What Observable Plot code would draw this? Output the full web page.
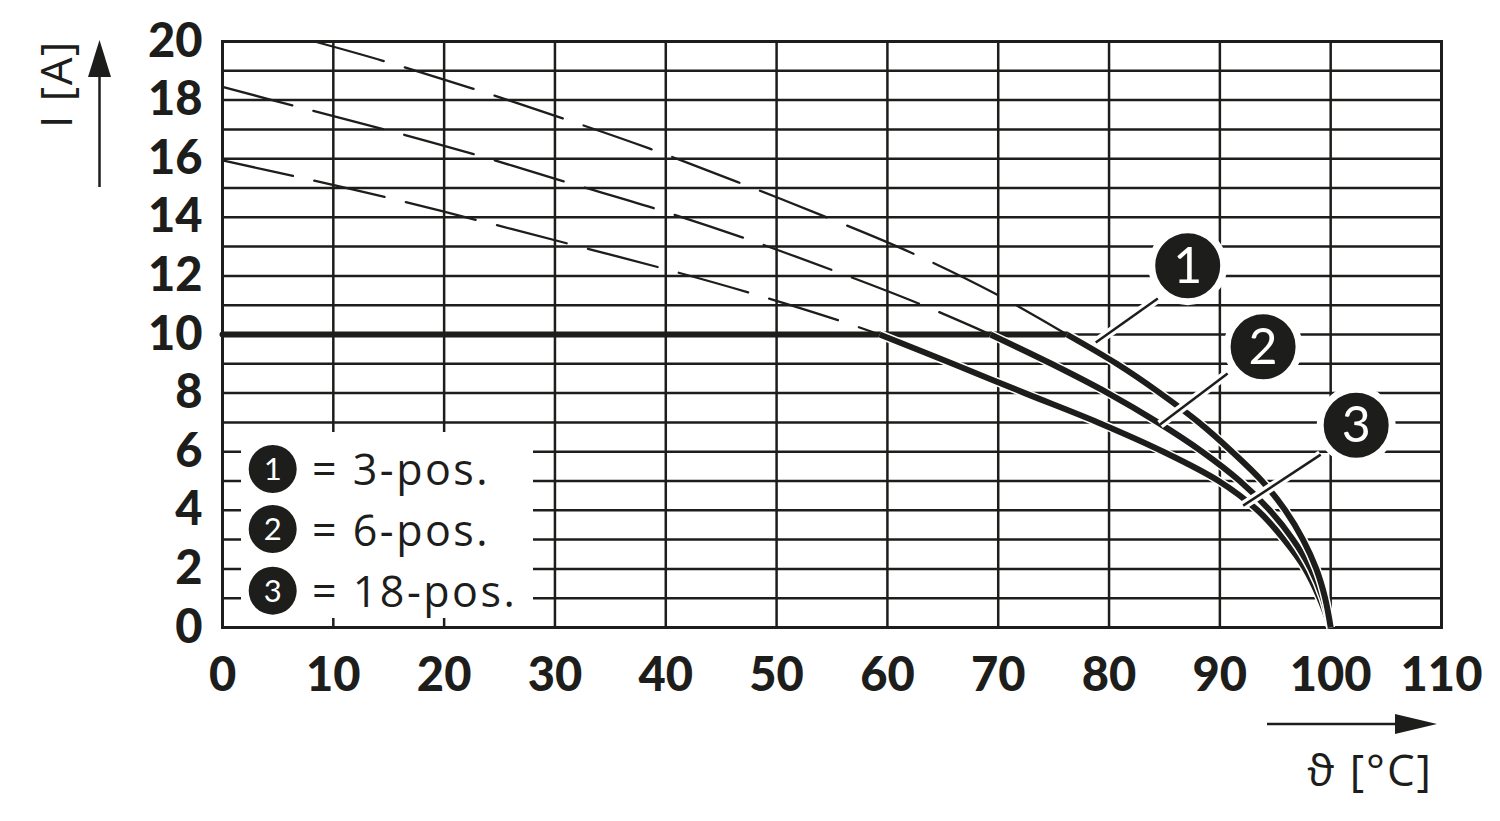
<!DOCTYPE html>
<html><head><meta charset="utf-8">
<script src="https://cdn.jsdelivr.net/npm/d3@7"></script>
<script src="https://cdn.jsdelivr.net/npm/@observablehq/plot@0.6"></script>
<style>
html,body{margin:0;padding:0;background:#fff;}
#chart{position:relative;width:1500px;height:821px;}
</style>
</head><body><div id="chart"></div>
<script>
const ink = "#1d1d1b";

// axes
const xTicks = [0, 10, 20, 30, 40, 50, 60, 70, 80, 90, 100, 110];
const yTicks = [0, 2, 4, 6, 8, 10, 12, 14, 16, 18, 20];
const yGridLines = [0,1,2,3,4,5,6,7,8,9,10,11,12,13,14,15,16,17,18,19,20];

// current limit (10 A) line
const limitX = [0, 76.2];
const limitY = [10, 10];

// curve 1 (3-pos.)
const c1DashX = [8.3, 14.4, 22.5, 30.5, 38.5, 46.5, 54.2, 62.1, 69.7, 76.2];
const c1DashY = [20, 19.35, 18.4, 17.4, 16.35, 15.2, 14.05, 12.8, 11.4, 10];
const c1SolidX = [76.2, 80.7, 84.6, 88.1, 91.1, 93.8, 95.9, 97.5, 98.7, 99.5, 100];
const c1SolidY = [10, 9, 8, 7, 6, 5, 4, 3, 2, 1, 0];

// curve 2 (6-pos.)
const c2DashX = [0, 6.5, 14.6, 22.8, 31, 39, 47, 55, 62.8, 69.3];
const c2DashY = [18.45, 17.8, 17.0, 16.14, 15.2, 14.3, 13.3, 12.2, 11.06, 10];
const c2SolidX = [69.3, 74.8, 79.9, 84.4, 88.4, 91.8, 94.5, 96.6, 98.2, 99.3, 100];
const c2SolidY = [10, 9, 8, 7, 6, 5, 4, 3, 2, 1, 0];

// curve 3 (18-pos.)
const c3DashX = [0, 6.5, 14.8, 23, 31.2, 39.3, 47.5, 55.6, 59.3];
const c3DashY = [15.94, 15.4, 14.68, 13.9, 13.1, 12.3, 11.43, 10.48, 10];
const c3SolidX = [59.3, 65.9, 72.4, 79.0, 84.9, 89.9, 93.4, 95.8, 97.7, 99.0, 100];
const c3SolidY = [10, 9, 8, 7, 6, 5, 4, 3, 2, 1, 0];

// badges on the chart
const badgeIds = ["1", "2", "3"];
const badgeX = [87.1, 93.9, 102.3];
const badgeY = [12.35, 9.58, 6.9];
const leaderX1 = [84.4, 90.7, 99.1];
const leaderY1 = [11.23, 8.67, 5.9];
const leaderX2 = [78.8, 84.6, 92.1];
const leaderY2 = [9.73, 6.93, 4.16];

// legend
const legendIds = ["1", "2", "3"];
const legendLabels = ["= 3-pos.", "= 6-pos.", "= 18-pos."];

const yLabel = "I [A]";
const xLabel = "ϑ [°C]";

const toPts = (xs, ys, id) => xs.map((x, i) => ({x, y: ys[i], id}));
const dashData = [
  ...toPts(c1DashX, c1DashY, 1),
  ...toPts(c2DashX, c2DashY, 2),
  ...toPts(c3DashX, c3DashY, 3)
];
const solids = [toPts(c3SolidX, c3SolidY, 3), toPts(c2SolidX, c2SolidY, 2), toPts(c1SolidX, c1SolidY, 1)];
const limitData = toPts(limitX, limitY, 0);
const badges = badgeIds.map((t, i) => ({t, x: badgeX[i], y: badgeY[i], x1: leaderX1[i], y1: leaderY1[i], x2: leaderX2[i], y2: leaderY2[i]}));

const solidMarks = [];
for (const s of solids) {
  solidMarks.push(Plot.line(s, {x: "x", y: "y", stroke: "white", strokeWidth: 9, curve: "catmull-rom", strokeLinecap: "butt"}));
  solidMarks.push(Plot.line(s, {x: "x", y: "y", stroke: ink, strokeWidth: 6, curve: "catmull-rom", strokeLinecap: "butt"}));
}

const plot = Plot.plot({
  width: 1500, height: 821,
  marginLeft: 222, marginRight: 59, marginTop: 41, marginBottom: 194,
  x: {domain: [0, 110]},
  y: {domain: [0, 20]},
  style: {fontFamily: "Lato, 'Open Sans', sans-serif", background: "white", overflow: "visible"},
  marks: [
    Plot.ruleY(yGridLines, {stroke: ink, strokeWidth: 2.5}),
    Plot.ruleX(xTicks, {stroke: ink, strokeWidth: 2.5}),
    Plot.frame({stroke: ink, strokeWidth: 3}),
    Plot.axisX(xTicks, {tickSize: 0, tickPadding: 30, fontSize: 47, fontWeight: 900, fill: ink, label: null}),
    Plot.axisY(yTicks, {tickSize: 0, tickPadding: 20, fontSize: 47, fontWeight: 900, fill: ink, label: null}),
    Plot.line(dashData, {x: "x", y: "y", z: "id", stroke: ink, strokeWidth: 2.3, strokeDasharray: "72,22", curve: "catmull-rom"}),
    Plot.line(limitData, {x: "x", y: "y", stroke: ink, strokeWidth: 6}),
    ...solidMarks,
    Plot.link(badges, {x1: "x1", y1: "y1", x2: "x2", y2: "y2", stroke: "white", strokeWidth: 9}),
    Plot.link(badges, {x1: "x1", y1: "y1", x2: "x2", y2: "y2", stroke: ink, strokeWidth: 2.5}),
    Plot.dot(badges, {x: "x", y: "y", r: 36, fill: ink, stroke: "white", strokeWidth: 7}),
    Plot.text(badges, {x: "x", y: "y", text: "t", fill: "white", fontSize: 50, fontFamily: "Lato, sans-serif", dy: 1})
  ]
});

document.getElementById("chart").appendChild(plot);

const svg = d3.select(plot);
// legend box
const lg = svg.append("g").attr("text-anchor", "start");
lg.append("rect").attr("x", 241).attr("y", 432).attr("width", 292).attr("height", 186).attr("fill", "white");
const rows = [469, 529, 590.7];
const bases = [485, 546, 607];
legendIds.forEach((id, i) => {
  lg.append("circle").attr("cx", 272.7).attr("cy", rows[i]).attr("r", 24).attr("fill", ink);
  lg.append("text").attr("x", 272.7).attr("y", rows[i]).attr("dy", "0.36em").attr("text-anchor", "middle")
    .attr("fill", "white").attr("font-size", 31).attr("font-family", "Lato, sans-serif").text(id);
  lg.append("text").attr("x", 312).attr("y", bases[i]).attr("text-anchor", "start").attr("fill", ink).attr("font-size", 43)
    .attr("letter-spacing", 2.5).attr("font-family", "'Open Sans', sans-serif").text(legendLabels[i]);
});

// y axis label + arrow
svg.append("text").attr("transform", "translate(72,84) rotate(-90)").attr("text-anchor", "middle")
  .attr("fill", ink).attr("font-size", 44).attr("letter-spacing", 1.5).attr("font-family", "'Open Sans', sans-serif").text(yLabel);
svg.append("line").attr("x1", 99.5).attr("x2", 99.5).attr("y1", 187).attr("y2", 72).attr("stroke", ink).attr("stroke-width", 2.5);
svg.append("polygon").attr("points", "99.5,40 88,77 111,77").attr("fill", ink);

// x axis label + arrow
svg.append("line").attr("x1", 1267).attr("x2", 1400).attr("y1", 724).attr("y2", 724).attr("stroke", ink).attr("stroke-width", 2.5);
svg.append("polygon").attr("points", "1437,724 1395,714 1395,734").attr("fill", ink);
svg.append("text").attr("x", 1433).attr("y", 786).attr("text-anchor", "end")
  .attr("fill", ink).attr("font-size", 44).attr("letter-spacing", 2).attr("font-family", "'Open Sans', sans-serif").text(xLabel);
</script>
</body></html>
